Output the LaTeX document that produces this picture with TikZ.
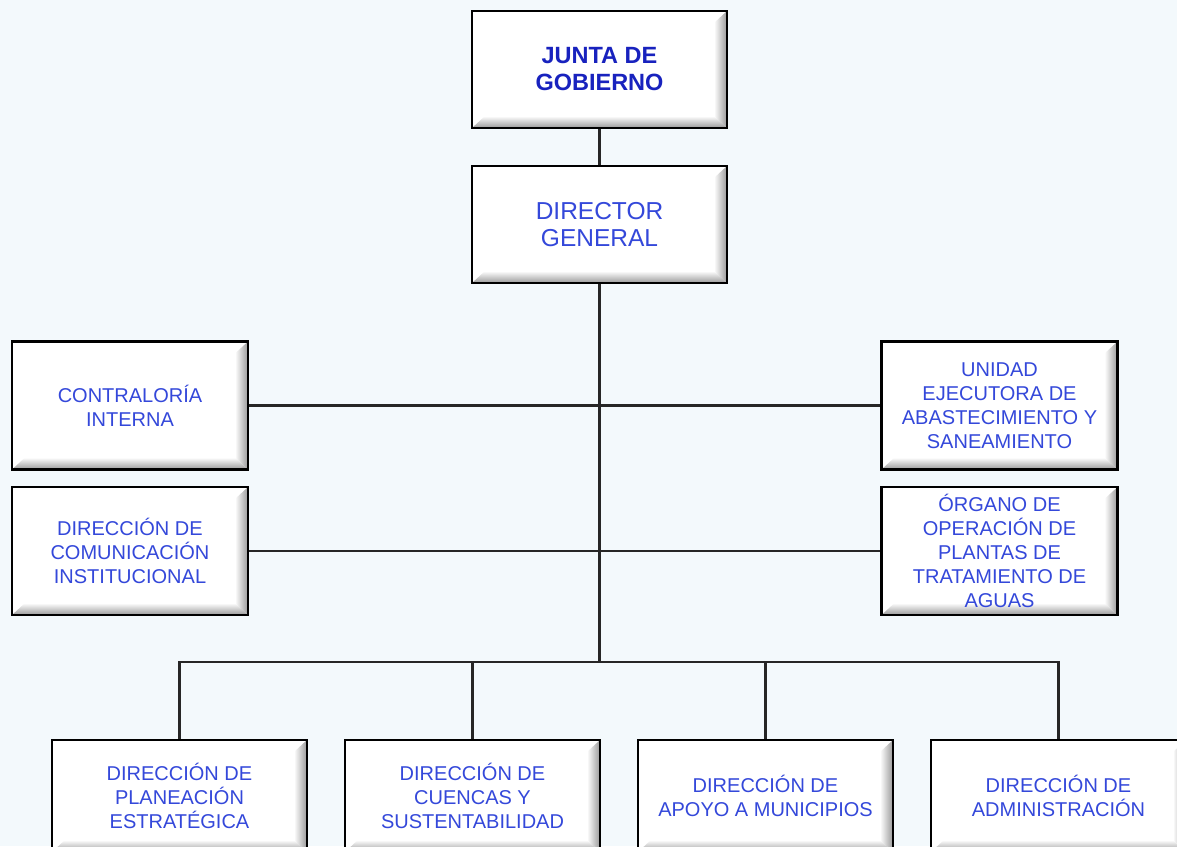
\documentclass[tikz,border=0pt]{standalone}
\usepackage{fontspec}
\setmainfont{Liberation Sans}
\usepackage{xcolor}
\usetikzlibrary{positioning,calc}
\definecolor{bgblue}{RGB}{243,249,252}
\definecolor{textblue}{RGB}{52,72,218}
\definecolor{headblue}{RGB}{24,34,190}
\begin{document}
\begin{tikzpicture}[x=1pt,y=-1pt,
    orgbox/.style={draw=black, line width=2.2pt, fill=white, align=center,
        text=textblue, font=\fontsize{20}{24}\selectfont, inner sep=2pt,
        path picture={
            \coordinate (pa) at (path picture bounding box.south west);
            \coordinate (pb) at (path picture bounding box.south east);
            \coordinate (pc) at (path picture bounding box.north east);
            \shade[top color=white, bottom color=black!40] (pa) -- (pb) -- ([shift={(-13pt,12pt)}]pb) -- ([shift={(13pt,12pt)}]pa) -- cycle;
            \shade[left color=white, right color=black!40] (pb) -- (pc) -- ([shift={(-13pt,-12pt)}]pc) -- ([shift={(-13pt,12pt)}]pb) -- cycle;
        }},
    topbox/.style={orgbox, minimum width=255pt, minimum height=117pt,
        font=\fontsize{24.5}{27}\selectfont},
    sidebox/.style={orgbox, minimum width=236pt, minimum height=128pt},
    lowbox/.style={orgbox, minimum width=255pt, minimum height=112pt},
    link/.style={draw=black!85, line width=2.2pt}]

    \useasboundingbox (0,0) rectangle (1177,846);
    \fill[bgblue] (0,0) rectangle (1177,846);

    \node[topbox, text=headblue, font=\fontsize{23.5}{27}\bfseries] (junta) at (599.5,69.5) {JUNTA DE\\GOBIERNO};
    \node[topbox] (director) at (599.5,224.5) {DIRECTOR\\GENERAL};

    \node[sidebox] (contraloria) at (130,405.5) {CONTRALORÍA\\INTERNA};
    \node[sidebox] (unidad) at (999.5,405.5) {UNIDAD\\EJECUTORA DE\\ABASTECIMIENTO Y\\SANEAMIENTO};
    \node[sidebox] (comunicacion) at (130,551) {DIRECCIÓN DE\\COMUNICACIÓN\\INSTITUCIONAL};
    \node[sidebox] (organo) at (999.5,551) {ÓRGANO DE\\OPERACIÓN DE\\PLANTAS DE\\TRATAMIENTO DE\\AGUAS};

    \node[lowbox] (planeacion) at (179.5,796) {DIRECCIÓN DE\\PLANEACIÓN\\ESTRATÉGICA};
    \node[lowbox] (cuencas) at (472.5,796) {DIRECCIÓN DE\\CUENCAS Y\\SUSTENTABILIDAD};
    \node[lowbox] (apoyo) at (765.5,796) {DIRECCIÓN DE\\APOYO A MUNICIPIOS};
    \node[lowbox] (admin) at (1058.5,796) {DIRECCIÓN DE\\ADMINISTRACIÓN};

    \coordinate (bus) at (599.5,662);
    \draw[link] (junta) -- (director);
    \draw[link] (director) -- (bus);
    \draw[link] (contraloria) -- (unidad);
    \draw[link] (comunicacion) -- (organo);
    \draw[link] (planeacion) |- (bus) -| (admin);
    \draw[link] (cuencas) -- (cuencas |- bus);
    \draw[link] (apoyo) -- (apoyo |- bus);
\end{tikzpicture}
\end{document}
